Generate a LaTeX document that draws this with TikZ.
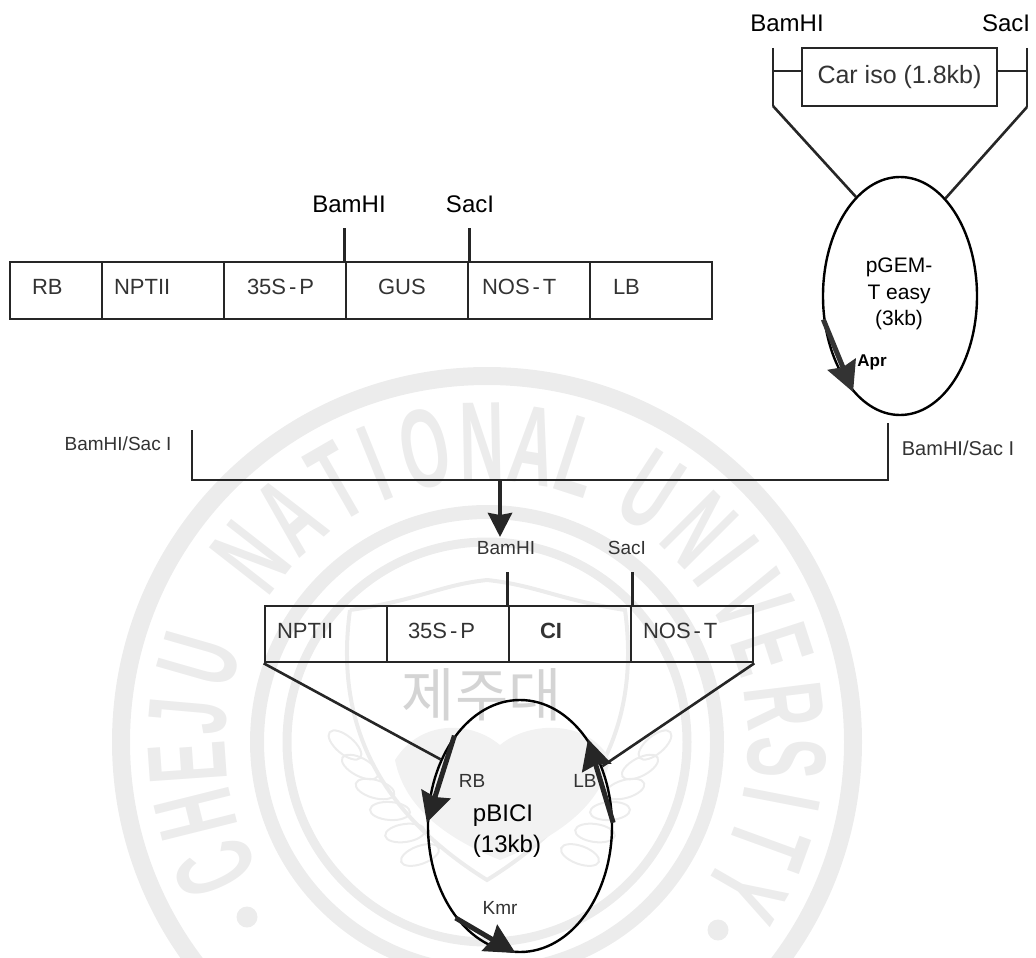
\documentclass[tikz,border=0pt]{standalone}
\usepackage{fontspec}
\setmainfont{Liberation Sans}
\newfontfamily\korfont{Noto Sans CJK KR}
\usetikzlibrary{arrows.meta,shapes.geometric}
\definecolor{wm}{gray}{0.925}
\definecolor{ink}{gray}{0.2}
\newcommand{\seglab}[2]{\hspace*{#1}\raisebox{-4pt}[0pt][0pt]{#2}}
\newcommand{\wide}{\kern3pt-\kern3pt}
\tikzset{
  segbox/.style={draw=black!85,line width=2.6pt,minimum height=#1,inner sep=0pt,align=left,text=ink,font=\fontsize{22}{26}\selectfont},
  lab/.style={text=ink,inner sep=0pt,font=\fontsize{19}{23}\selectfont},
  boldlab/.style={text=black,inner sep=0pt,font=\fontsize{24}{28}\selectfont},
  line/.style={draw=black!85,line width=2.6pt},
  plasmid/.style={draw=black,line width=2.4pt,ellipse,inner sep=0pt},
  gene/.style={draw=black!85,line width=5pt,-{Stealth[length=30pt,width=30pt,inset=3pt]}},
  wmletter/.style={text=wm,inner sep=0pt,font=\fontsize{112}{112}\selectfont\bfseries}
}
\begin{document}
\begin{tikzpicture}[x=1pt,y=-1pt]
\useasboundingbox (0,0) rectangle (1036,958);
\begin{scope}
\clip (0,0) rectangle (1036,958);
\draw[wm,line width=18pt] (487,742) circle (366pt);
\draw[wm,line width=14pt] (487,742) circle (230pt);
\draw[wm,line width=9pt] (487,742) circle (200pt);
\foreach \ang/\ch [count=\i] in {205/C,194/H,184/E,175/J,164/U,142/N,131/A,120/T,112/I,102/O,91/N,81/A,72/L,57/U,45/N,37/I,28/V,18/E,7/R,-3/S,-11/I,-20/T,-30/Y} {
  \node[wmletter,rotate=\ang-90] (wm\i) at ({487+300*cos(\ang)},{742-300*sin(\ang)}) {\scalebox{.55}[1]{\ch}};
}
\fill[wm] (247,917) circle (10.5pt);
\fill[wm] (718,930) circle (10.5pt);
\draw[wm,line width=4pt] (350,610) .. controls (420,600) and (440,585) .. (487,580) .. controls (535,585) and (560,600) .. (625,610) .. controls (640,720) and (600,810) .. (487,880) .. controls (375,810) and (335,720) .. (350,610);
\fill[wm!70!white] (395,760) .. controls (420,720) and (470,720) .. (500,745) .. controls (530,720) and (590,720) .. (610,760) .. controls (600,810) and (550,840) .. (500,860) .. controls (450,840) and (405,810) .. (395,760);
\foreach \k in {0,...,5} {
  \draw[wm,line width=2pt,rotate around={-40+\k*12:(345+\k*15,{745+\k*22})}] (345+\k*15,{745+\k*22}) ellipse (20pt and 9pt);
  \draw[wm,line width=2pt,rotate around={40-\k*12:(655-\k*15,{745+\k*22})}] (655-\k*15,{745+\k*22}) ellipse (20pt and 9pt);
}
\node[text=wm!90!black,inner sep=0pt,font=\korfont\fontsize{58}{58}\selectfont] (wmname) at (482,695) {제주대};
\end{scope}

\node[segbox=57pt,minimum width=92pt,text width=92pt] (rb) at (56,290.5) {\seglab{22pt}{RB}};
\node[segbox=57pt,minimum width=122pt,text width=122pt] (nptii) at (163,290.5) {\seglab{12pt}{NPTII}};
\node[segbox=57pt,minimum width=122pt,text width=122pt] (ssp) at (285,290.5) {\seglab{23pt}{35S\wide P}};
\node[segbox=57pt,minimum width=122pt,text width=122pt] (gus) at (407,290.5) {\seglab{32pt}{GUS}};
\node[segbox=57pt,minimum width=122pt,text width=122pt] (nos) at (529,290.5) {\seglab{14pt}{NOS\wide T}};
\node[segbox=57pt,minimum width=122pt,text width=122pt] (lb) at (651,290.5) {\seglab{23pt}{LB}};
\coordinate (bamtop) at (gus.north west |- 0,228);
\coordinate (sactop) at (gus.north east |- 0,228);
\draw[line] (gus.north west) -- (bamtop);
\draw[line] (gus.north east) -- (sactop);
\node[boldlab] (bamhi) at (349,204) {BamHI};
\node[boldlab] (saci) at (470,204) {SacI};

\node[draw=black!85,line width=2.6pt,minimum width=195pt,minimum height=58pt,inner sep=0pt,text=ink,font=\fontsize{25}{29}\selectfont] (car) at (899.5,77) {Car iso (1.8kb)};
\coordinate (carlt) at (773,48);
\coordinate (carlm) at (773,71);
\coordinate (carlb) at (773,106);
\coordinate (carrt) at (1027,48);
\coordinate (carrm) at (1027,71);
\coordinate (carrb) at (1027,107);
\draw[line] (carlt) -- (carlb);
\draw[line] (carrt) -- (carrb);
\draw[line] (carlm) -- (carlm -| car.west);
\draw[line] (carrm) -- (carrm -| car.east);
\node[boldlab] (bamtwo) at (787,23) {BamHI};
\node[boldlab] (sactwo) at (1006,23) {SacI};
\node[plasmid,minimum width=154pt,minimum height=238pt] (pgem) at (900,296) {};
\draw[line] (carlb) -- (pgem.114);
\draw[line] (carrb) -- (pgem.65);
\node[boldlab,font=\fontsize{21}{26.5}\selectfont,align=center] (pgemname) at (899,294) {pGEM-\\T easy\\(3kb)};
\node[boldlab,font=\fontsize{17}{20}\selectfont\bfseries] (apr) at (872,362) {Apr};
\draw[gene,draw=black!80] (pgem.197) -- (pgem.244);

\coordinate (bl) at (192,430);
\coordinate (br) at (888,423);
\coordinate (bm) at (500,480);
\coordinate (bt) at (500,537);
\draw[line] (bl) |- (bm) -| (br);
\draw[line,line width=4pt,-{Stealth[length=24pt,width=24pt,inset=2pt]}] (bm) -- (bt);
\node[lab] (cutl) at (118,444) {BamHI/Sac I};
\node[lab,font=\fontsize{20}{24}\selectfont] (cutr) at (958,448) {BamHI/Sac I};

\node[segbox=56pt,minimum width=122pt,text width=122pt] (nptb) at (326,634) {\seglab{12pt}{NPTII}};
\node[segbox=56pt,minimum width=122pt,text width=122pt] (sspb) at (448,634) {\seglab{21pt}{35S\wide P}};
\node[segbox=56pt,minimum width=122pt,text width=122pt] (ci) at (570,634) {\seglab{31pt}{\textbf{CI}}};
\node[segbox=56pt,minimum width=122pt,text width=122pt] (nosb) at (692,634) {\seglab{12pt}{NOS\wide T}};
\coordinate (bamb) at (ci.north west |- 0,572);
\coordinate (sacb) at (ci.north east |- 0,572);
\draw[line] (ci.north west) -- (bamb);
\draw[line] (ci.north east) -- (sacb);
\node[lab] (bamthree) at (506,548) {BamHI};
\node[lab] (sacthree) at (627,548) {SacI};

\node[plasmid,minimum width=184pt,minimum height=252pt] (pbici) at (520,826) {};
\draw[line] (nptb.south west) -- (pbici.140);
\draw[line] (nosb.south east) -- (pbici.36);
\draw[gene] (pbici.126) -- (pbici.178);
\draw[gene] (pbici.2) -- (pbici.52);
\draw[gene] (pbici.235) -- (pbici.268);
\node[lab] (rbin) at (472,781) {RB};
\node[lab] (lbin) at (585,781) {LB};
\node[lab,text=black,font=\fontsize{24}{31}\selectfont,align=left] (pbiciname) at (507,831) {pBICI\\(13kb)};
\node[lab] (kmr) at (500,908) {Kmr};
\end{tikzpicture}
\end{document}
